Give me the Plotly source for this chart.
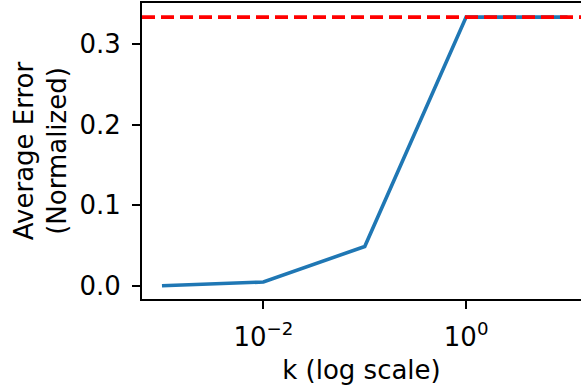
import plotly.graph_objects as go

k_values = [0.001, 0.01, 0.1, 1, 10]
avg_error = [0.0003, 0.005, 0.049, 0.3333, 0.3333]
baseline = 1/3
x_tickvals = [0.01, 1]
x_ticktext = ["10<sup>\u22122</sup>", "10<sup>0</sup>"]
y_tickvals = [0.0, 0.1, 0.2, 0.3]
y_ticktext = ["0.0", "0.1", "0.2", "0.3"]

font = "DejaVu Sans"
fs = 26
fig = go.Figure()
fig.add_trace(go.Scatter(x=k_values, y=avg_error, mode="lines",
                         line=dict(color="#1f77b4", width=3.6), showlegend=False))
fig.add_shape(type="line", xref="paper", x0=0, x1=1, yref="y", y0=baseline, y1=baseline,
              line=dict(color="#ff0000", width=3.6, dash="13px,6px"), layer="above")

fig.update_layout(
    width=581, height=387,
    margin=dict(l=142, r=0, t=3, b=88),
    plot_bgcolor="white", paper_bgcolor="white",
    font=dict(family=font, size=fs, color="black"),
)
fig.update_xaxes(type="log", range=[-3.197, 1.133], automargin=False,
                 tickvals=x_tickvals, ticktext=x_ticktext,
                 ticks="outside", ticklen=8, tickwidth=2, tickcolor="black",
                 showline=True, linecolor="black", linewidth=2, mirror=True,
                 showgrid=False, zeroline=False, ticklabelstandoff=6,
                 title=dict(text="k (log scale)", font=dict(size=fs), standoff=10),
                 tickfont=dict(size=fs))
fig.update_yaxes(range=[-0.0161, 0.3508], automargin=False,
                 tickvals=y_tickvals, ticktext=y_ticktext,
                 ticks="outside", ticklen=8, tickwidth=2, tickcolor="black",
                 showline=True, linecolor="black", linewidth=2,
                 showgrid=False, zeroline=False, ticklabelstandoff=6,
                 title=dict(text="Average Error<br>(Normalized)", font=dict(size=fs), standoff=5),
                 tickfont=dict(size=fs))

fig.write_html("out.html", config={"displayModeBar": False},
               post_script="document.body.style.margin='0px';")
